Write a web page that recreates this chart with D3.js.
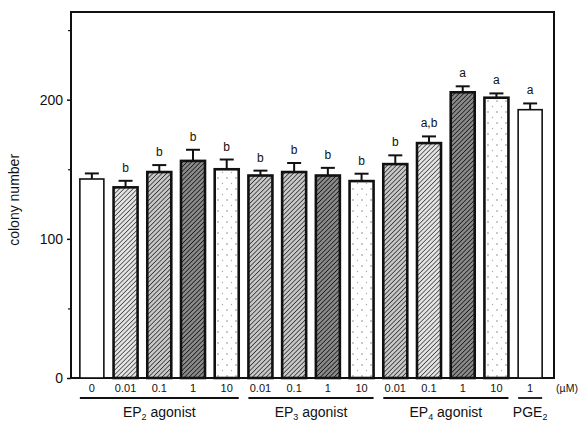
<!DOCTYPE html>
<html>
<head>
<meta charset="utf-8">
<script src="https://cdn.jsdelivr.net/npm/d3@7"></script>
<style>
  body { margin: 0; background: #fff; }
  svg text { font-family: "Liberation Sans", Arial, Helvetica, sans-serif; fill: #111; }
</style>
</head>
<body>
<div id="my_chart"></div>
<script>
// data
var doses   = ["0", "0.01", "0.1", "1", "10", "0.01", "0.1", "1", "10", "0.01", "0.1", "1", "10", "1"];
var means   = [143, 137, 148, 156, 150, 145.5, 148, 145.5, 141.5, 153.7, 168.8, 205.3, 201.4, 192.8];
var sems    = [4, 4.7, 5, 8, 7, 3.5, 6.5, 5.5, 5.3, 6.3, 4.8, 4.3, 3.1, 4.5];
var letters = ["", "b", "b", "b", "b", "b", "b", "b", "b", "b", "a,b", "a", "a", "a"];
var fills   = ["none", "hatchLight", "hatchMed", "hatchDark", "dots",
               "hatchMed", "hatchMed", "hatchDark", "dots",
               "hatchMed", "hatchLight", "hatchDark", "dots", "none"];
var yTicks      = [0, 100, 200];
var yMinorTicks = [50, 150, 250];
var groupMain  = ["EP", "EP", "EP", "PGE"];
var groupSub   = ["2", "3", "4", "2"];
var groupRest  = [" agonist", " agonist", " agonist", ""];
var groupStart = [0, 5, 9, 13];
var groupEnd   = [4, 8, 12, 13];

var W = 584, H = 424;
var plot = {left: 71, right: 554, top: 12, bottom: 378};

var svg = d3.select("#my_chart")
  .append("svg")
    .attr("width", W)
    .attr("height", H);

// fill patterns (hatching and stipple)
var defs = svg.append("defs");
function hatch(id, gap, sw, col, bg) {
  var p = defs.append("pattern")
    .attr("id", id)
    .attr("patternUnits", "userSpaceOnUse")
    .attr("width", gap).attr("height", gap)
    .attr("patternTransform", "rotate(45)");
  p.append("rect").attr("width", gap).attr("height", gap).attr("fill", bg);
  p.append("line")
    .attr("x1", 0).attr("y1", 0).attr("x2", 0).attr("y2", gap)
    .attr("stroke", col).attr("stroke-width", sw);
}
hatch("hatchLight", 3.2, 1.2, "#111", "#e4e4e4");
hatch("hatchMed", 3.2, 1.3, "#111", "#c8c8c8");
hatch("hatchDark", 3.2, 1.5, "#111", "#8a8a8a");
var dp = defs.append("pattern")
  .attr("id", "dots")
  .attr("patternUnits", "userSpaceOnUse")
  .attr("width", 9).attr("height", 11);
dp.append("rect").attr("width", 9).attr("height", 11).attr("fill", "#fff");
dp.append("circle").attr("cx", 2).attr("cy", 2).attr("r", 0.8).attr("fill", "#888");
dp.append("circle").attr("cx", 6.5).attr("cy", 7.5).attr("r", 0.7).attr("fill", "#aaa");

// scales
var x = d3.scaleBand()
  .domain(d3.range(doses.length))
  .range([75, 547])
  .paddingInner(0.288)
  .paddingOuter(0.144);

var y = d3.scaleLinear()
  .domain([0, 263])
  .range([plot.bottom, plot.top]);

// frame
svg.append("rect")
  .attr("x", plot.left).attr("y", plot.top)
  .attr("width", plot.right - plot.left)
  .attr("height", plot.bottom - plot.top)
  .attr("fill", "none")
  .attr("stroke", "#111")
  .attr("stroke-width", 2);

// y axis
var yAxis = svg.append("g")
  .attr("transform", "translate(" + plot.left + ",0)")
  .call(d3.axisLeft(y).tickValues(yTicks).tickSize(4).tickPadding(4));
yAxis.select(".domain").remove();
yAxis.selectAll("line").attr("stroke", "#111").attr("stroke-width", 1.5);
yAxis.selectAll("text").style("font-size", "14px").attr("fill", "#111");

svg.append("g")
  .attr("transform", "translate(" + plot.left + ",0)")
  .call(d3.axisLeft(y).tickValues(yMinorTicks).tickSize(3).tickFormat(""))
  .call(function(g) { g.select(".domain").remove(); })
  .selectAll("line").attr("stroke", "#111").attr("stroke-width", 1.2);

svg.append("text")
  .attr("transform", "translate(19," + y(128) + ") rotate(-90)")
  .attr("text-anchor", "middle")
  .style("font-size", "14px")
  .text("colony number");

// bars
svg.selectAll("rect.bar")
  .data(means)
  .enter()
  .append("rect")
    .attr("class", "bar")
    .attr("x", function(d, i) { return x(i); })
    .attr("y", function(d) { return y(d); })
    .attr("width", x.bandwidth())
    .attr("height", function(d) { return y(0) - y(d); })
    .attr("fill", function(d, i) { return fills[i] == "none" ? "#fff" : "url(#" + fills[i] + ")"; })
    .attr("stroke", "#111")
    .attr("stroke-width", function(d, i) { return fills[i] == "none" ? 1.6 : 2.6; });

// error bars (upper only)
var err = svg.selectAll("g.err")
  .data(means)
  .enter()
  .append("g")
    .attr("class", "err")
    .attr("stroke", "#111")
    .attr("stroke-width", 2);
err.append("line")
  .attr("x1", function(d, i) { return x(i) + x.bandwidth() / 2; })
  .attr("x2", function(d, i) { return x(i) + x.bandwidth() / 2; })
  .attr("y1", function(d) { return y(d); })
  .attr("y2", function(d, i) { return y(d + sems[i]); });
err.append("line")
  .attr("x1", function(d, i) { return x(i) + x.bandwidth() / 2 - 7; })
  .attr("x2", function(d, i) { return x(i) + x.bandwidth() / 2 + 7; })
  .attr("y1", function(d, i) { return y(d + sems[i]); })
  .attr("y2", function(d, i) { return y(d + sems[i]); });

// significance letters
svg.selectAll("text.sig")
  .data(means)
  .enter()
  .append("text")
    .attr("class", "sig")
    .attr("x", function(d, i) { return x(i) + x.bandwidth() / 2; })
    .attr("y", function(d, i) { return y(d + sems[i]) - 9; })
    .attr("text-anchor", "middle")
    .style("font-size", "12px")
    .text(function(d, i) { return letters[i]; });

// dose labels
svg.selectAll("text.dose")
  .data(doses)
  .enter()
  .append("text")
    .attr("class", "dose")
    .attr("x", function(d, i) { return x(i) + x.bandwidth() / 2; })
    .attr("y", 392)
    .attr("text-anchor", "middle")
    .style("font-size", "11px")
    .text(function(d) { return d; });

svg.append("text")
  .attr("x", 567).attr("y", 392)
  .attr("text-anchor", "middle")
  .style("font-size", "10.5px")
  .text("(\u00b5M)");

// group underlines and names
groupMain.forEach(function(name, k) {
  var x0 = x(groupStart[k]), x1 = x(groupEnd[k]) + x.bandwidth();
  svg.append("line")
    .attr("x1", x0).attr("x2", x1)
    .attr("y1", 398).attr("y2", 398)
    .attr("stroke", "#111").attr("stroke-width", 1.8);
  var t = svg.append("text")
    .attr("x", (x0 + x1) / 2).attr("y", 417)
    .attr("text-anchor", "middle")
    .style("font-size", "14px");
  t.append("tspan").text(name);
  t.append("tspan").attr("dy", 3).style("font-size", "9px").text(groupSub[k]);
  t.append("tspan").attr("dy", -3).text(groupRest[k]);
});
</script>
</body>
</html>
